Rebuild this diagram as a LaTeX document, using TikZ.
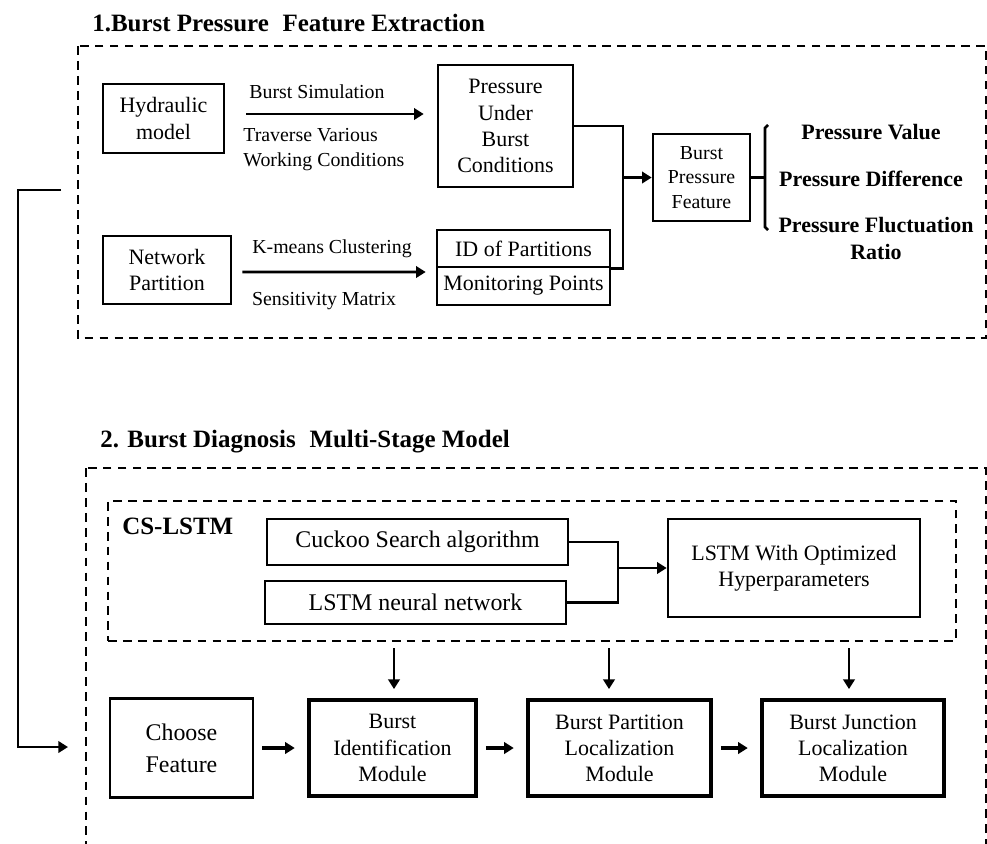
\documentclass[tikz,border=0pt]{standalone}
\usepackage{fontspec}
\setmainfont{Liberation Serif}
\usetikzlibrary{arrows.meta, positioning, calc}

\begin{document}
\begin{tikzpicture}[x=0.02cm, y=-0.02cm,
  box/.style={draw, line width=1.5pt, inner sep=0pt, align=center, font=\fontsize{12.5}{14.9}\selectfont},
  modbox/.style={box, line width=2.2pt},
  sz/.style 2 args={minimum width=#1*0.02cm, minimum height=#2*0.02cm},
  dbox/.style={draw, line width=1.4pt, dash pattern=on 5pt off 3.5pt},
  lnk/.style={line width=1.5pt},
  arr/.style={lnk, -{Triangle[length=5.5pt, width=6.5pt]}},
  garr/.style={line width=2pt, -{Triangle[length=5.5pt, width=6.5pt]}, shorten <=4.5pt, shorten >=7pt},
  lbl/.style={font=\fontsize{11.3}{14.2}\selectfont, inner sep=0pt},
  ttl/.style={font=\fontsize{14.2}{17}\selectfont\bfseries, inner sep=0pt, anchor=west},
  itm/.style={font=\fontsize{12.5}{15.3}\selectfont\bfseries, inner sep=0pt, align=center},
]
  \clip (0,0) rectangle (987,843);

  % stage 1
  \node[ttl] (t1) at (92,23) {1.Burst Pressure\hspace{0.3em} Feature Extraction};
  \draw[dbox] (78,46) rectangle (986,338);
  \node[box, sz={121}{69}] (hyd) at (163.5,118.5) {Hydraulic\\model};
  \node[box, sz={135}{122}] (press) at (505.5,126) {Pressure\\Under\\Burst\\Conditions};
  \node[box, sz={128}{68}] (net) at (167,270) {Network\\Partition};
  \node[box, sz={173}{37}] (idp) at (523.5,248.5) {ID of Partitions};
  \node[box, sz={173}{38}] (mon) at (523.5,286) {Monitoring Points};
  \node[box, sz={97}{87}, font=\fontsize{11.3}{13.9}\selectfont] (bpf) at (701.5,177.5) {Burst\\Pressure\\Feature};
  \node[lbl] (sim) at (317,92) {Burst Simulation};
  \node[lbl, anchor=west, align=left] (trav) at (243,149.5) {Traverse Various\\Working Conditions};
  \node[lbl] (km) at (332,249) {K-means Clustering};
  \node[lbl] (sens) at (324,301) {Sensitivity Matrix};
  \draw[arr] ($(hyd.east)+(21,-4.5)$) -- ($(press.west)+(-13,-12)$);
  \draw[arr] ($(net.east)+(10,2)$) -- ($(idp.west)+(-10,23.5)$);
  \coordinate (j1) at (623,177.5);
  \draw[lnk] (press.east) -| (j1);
  \draw[lnk] (idp.south east) -| (j1);
  \draw[arr] (j1) -- (bpf.west);
  \coordinate (brc) at (765,177.5);
  \draw[lnk] (bpf.east) -- (brc);
  \draw[lnk] (768,125) -- (765,128) -- (765,227) -- (768,230);
  \node[itm] (pv) at (871,132) {Pressure Value};
  \node[itm] (pd) at (871,179) {Pressure Difference};
  \node[itm] (pf) at (876,238.5) {Pressure Fluctuation\\Ratio};

  % stage 2
  \node[ttl] (t2) at (100,442) {2. Burst Diagnosis\hspace{0.3em} Multi-Stage Model};
  \draw[dbox] (86,468) rectangle (986,880);
  \node[dbox, sz={848}{140}, inner sep=0pt] (cs) at (532,571) {};
  \node[ttl] (csl) at (122,526) {CS-LSTM};
  \node[box, sz={301}{46}, font=\fontsize{13.6}{16}\selectfont] (cuckoo) at (417.5,542) {Cuckoo Search algorithm};
  \node[box, sz={301}{43}, font=\fontsize{13.6}{16}\selectfont] (lnn) at (415.5,602.5) {LSTM neural network};
  \node[box, sz={252}{98}, font=\fontsize{12.5}{15}\selectfont] (lopt) at (794,568) {LSTM With Optimized\\Hyperparameters};
  \coordinate (j2) at (618,568);
  \draw[lnk] (cuckoo.east) -| (j2);
  \draw[lnk] (lnn.east) -| (j2);
  \draw[arr] (j2) -- (lopt.west);
  \node[box, sz={143}{99}, font=\fontsize{13.6}{18}\selectfont] (choose) at (181.5,748) {Choose\\Feature};
  \node[modbox, sz={167}{96}] (bid) at (392.5,748) {Burst\\Identification\\Module};
  \node[modbox, sz={183}{96}] (bpl) at (619.5,748) {Burst Partition\\Localization\\Module};
  \node[modbox, sz={182}{96}] (bjl) at (853,748) {Burst Junction\\Localization\\Module};
  \foreach \a/\b in {choose/bid, bid/bpl, bpl/bjl}
    \draw[garr] (\a.east) -- (\b.west);
  \foreach \m/\d in {bid/1.5, bpl/-10.5, bjl/-4}
    \draw[arr] ($(\m.north)+(\d,-50)$) -- ($(\m.north)+(\d,-9)$);

  % feedback
  \coordinate (fbs) at (61,190);
  \coordinate (fbe) at (68,747);
  \draw[arr] (fbs) -- ++(-43,0) |- (fbe);
\end{tikzpicture}
\end{document}
